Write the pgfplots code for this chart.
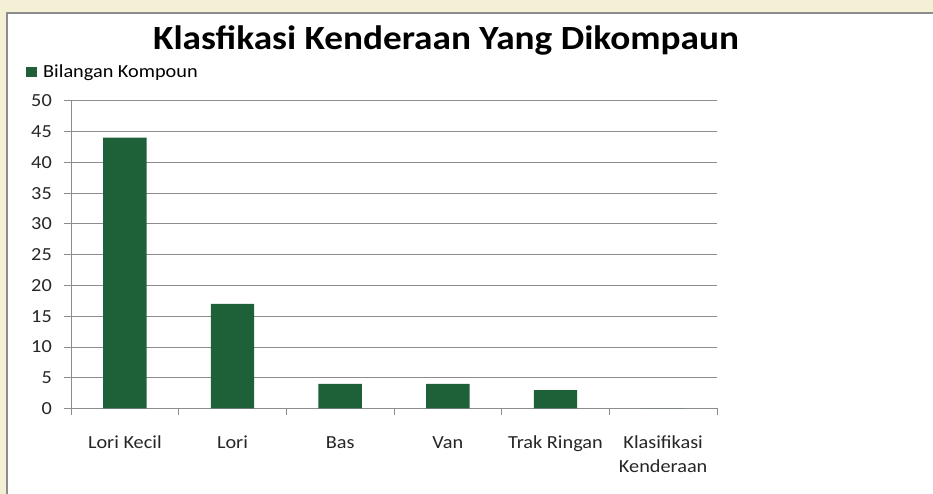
\documentclass[border=0pt]{standalone}
\usepackage{pgfplots}
\pgfplotsset{compat=1.18}
\usepackage{fontspec}
\setmainfont{Carlito}[FakeStretch=1.1]
\definecolor{bargreen}{HTML}{1E6139}
\definecolor{cream}{HTML}{F3F0D6}
\definecolor{gridgray}{HTML}{8C8C8C}
\begin{document}
\begin{tikzpicture}[x=1bp,y=1bp]
\useasboundingbox (0,0) rectangle (933,494);
\fill[cream] (0,0) rectangle (933,494);
\fill[white] (7,0) rectangle (933,481);
\draw[gridgray,line width=1.5bp] (7,-1) -- (7,481) -- (934,481);
\node[font=\fontsize{34}{40}\selectfont\bfseries,anchor=base,inner sep=0] at (446,444) {Klasfikasi Kenderaan Yang Dikompaun};
\fill[bargreen] (26,417) rectangle (37,427);
\node[font=\fontsize{18.5}{22}\selectfont,anchor=base west,inner sep=0] at (43,416) {Bilangan Kompoun};
\begin{axis}[
  at={(71bp,85.5bp)}, anchor=south west,
  scale only axis, width=646bp, height=307.7bp,
  ymin=0, ymax=50, ytick={0,5,...,50},
  xmin=-0.5, xmax=5.5,
  xtick={-0.5,0.5,...,5.5}, xticklabels={},
  extra x ticks={0,1,2,3,4,5},
  extra x tick labels={\strut Lori Kecil,\strut Lori,\strut Bas,\strut Van,\strut Trak Ringan,{\strut Klasifikasi\\\strut Kenderaan}},
  extra x tick style={major tick length=0pt, tick label style={inner sep=0pt, anchor=north, yshift=-23bp}},
  x tick label style={font=\fontsize{18.5}{24}\selectfont, align=center, text=black!85},
  yticklabel style={font=\fontsize{18.5}{22}\selectfont, anchor=east, inner sep=0pt, text=black!85},
  yticklabel shift=12bp,
  /pgf/number format/assume math mode=true,
  axis x line=bottom, axis y line=left,
  x axis line style={-, gridgray, line width=0.8bp}, y axis line style={-, gridgray, line width=0.8bp},
  ymajorgrids, major grid style={gridgray, line width=0.8bp},
  tick style={gridgray, line width=0.8bp},
  major tick length=7bp,
  tick align=outside,
  ybar, bar width=43.4bp, bar shift=0pt,
  clip=false,
]
\addplot[fill=bargreen, draw=none] coordinates {(0,44) (1,17) (2,4) (3,4) (4,3) (5,0)};
\end{axis}
\end{tikzpicture}
\end{document}
